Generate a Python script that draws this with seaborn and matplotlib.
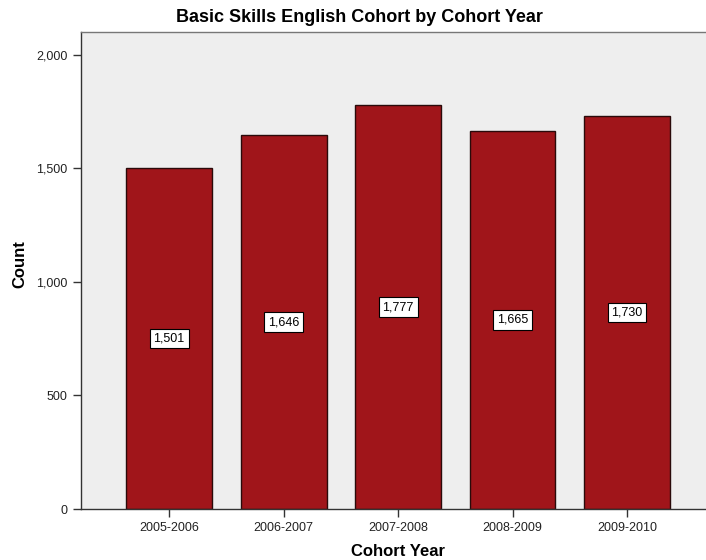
import matplotlib
matplotlib.use("Agg")
import matplotlib.pyplot as plt
import seaborn as sns
import pandas as pd
from matplotlib.ticker import FuncFormatter

years = ["2005-2006", "2006-2007", "2007-2008", "2008-2009", "2009-2010"]
counts = [1501, 1646, 1777, 1665, 1730]

df = pd.DataFrame({"Cohort Year": years, "Count": counts})

sns.set_style("white")
plt.rcParams['font.family'] = ['Liberation Sans', 'DejaVu Sans']
plt.rcParams['text.color'] = 'black'

fig = plt.figure(figsize=(7.06, 5.60), dpi=100)
W, H = 706, 560
ax = fig.add_axes([81 / W, 1 - 509 / H, (706 - 81) / W, (509 - 32) / H])
ax.set_facecolor("#EEEEEE")

sns.barplot(data=df, x="Cohort Year", y="Count", color="#A0151A", saturation=1,
            width=0.75, edgecolor="#2a0a0a", linewidth=1.0, ax=ax)

ax.set_xlim(-0.77, 4.69)
ax.set_ylim(0, 2100)
ax.set_yticks([0, 500, 1000, 1500, 2000])
ax.yaxis.set_major_formatter(FuncFormatter(lambda v, p: f"{int(v):,}"))

for i, v in enumerate(counts):
    ax.text(i, v / 2, f"{v:,}", ha="center", va="center", fontsize=9, color="black",
            bbox=dict(boxstyle="square,pad=0.3", facecolor="white", edgecolor="black", linewidth=0.8))

for s in ["left", "bottom", "top"]:
    ax.spines[s].set_visible(True)
    ax.spines[s].set_color("#333333")
    ax.spines[s].set_linewidth(1.0)
ax.spines["top"].set_color("#777777")
ax.spines["right"].set_visible(False)

ax.tick_params(axis="both", which="both", length=6, width=1, color="#333333",
               labelsize=9, labelcolor="#222222", direction="out", left=True, bottom=True)
ax.set_xlabel("")
ax.set_ylabel("")

fig.text(359 / W, 1 - 18 / H, "Basic Skills English Cohort by Cohort Year", ha="center", va="center",
         fontsize=13, fontweight="bold", color="black")
fig.text(20 / W, 1 - 264 / H, "Count", ha="center", va="center", rotation=90,
         fontsize=12, fontweight="bold", color="black")
fig.text(398 / W, 1 - 552 / H, "Cohort Year", ha="center", va="center",
         fontsize=12, fontweight="bold", color="black")

fig.savefig("out.png", dpi=100)
